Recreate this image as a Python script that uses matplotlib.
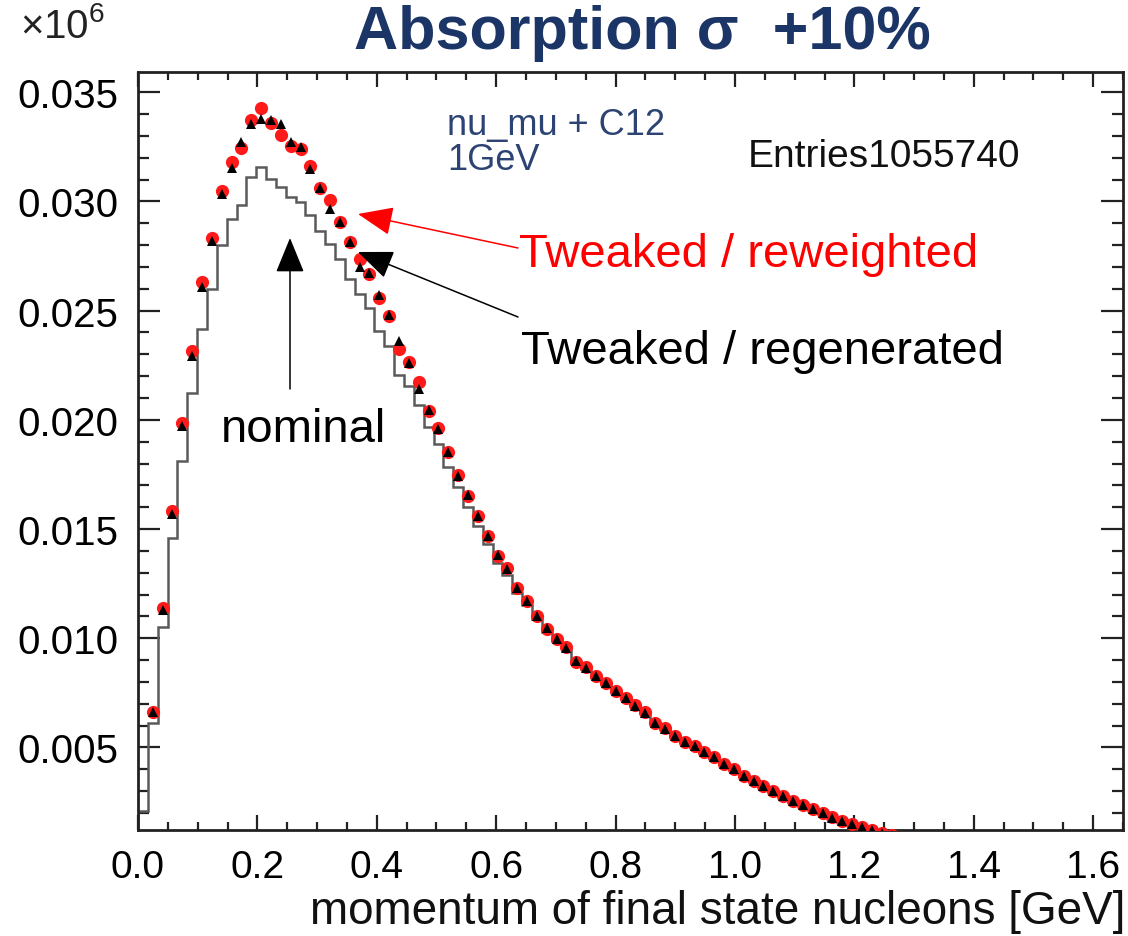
import numpy as np
import matplotlib
matplotlib.use("Agg")
import matplotlib.pyplot as plt
from matplotlib.ticker import MultipleLocator, FormatStrFormatter

plt.rcParams['font.family'] = ['Liberation Sans', 'DejaVu Sans']
plt.rcParams['mathtext.fontset'] = 'custom'
plt.rcParams['mathtext.rm'] = 'Liberation Sans'
plt.rcParams['mathtext.it'] = 'Liberation Sans'

# ---- data (histogram: 100 bins on 0..1.65 GeV) ----
bin_lo = 0.0
bin_hi = 1.65
n_bins = 100

nominal = [
    0.0021, 0.0061, 0.01052, 0.01458, 0.01813, 0.02123, 0.02416, 0.0260, 0.02802, 0.0292,
    0.02984, 0.0311, 0.03157, 0.03103, 0.03065, 0.03019, 0.02996, 0.02938, 0.02866, 0.02805,
    0.02737, 0.02645, 0.02576, 0.02513, 0.02409, 0.0234, 0.02206, 0.02154, 0.02068, 0.01965,
    0.0189, 0.01783, 0.01691, 0.0160, 0.01516, 0.0143, 0.01345, 0.0129, 0.01205, 0.01152,
    0.01088, 0.0103, 0.00987, 0.0095, 0.00886, 0.0086, 0.00823, 0.0079, 0.00756, 0.00724,
    0.0069, 0.00657, 0.0061, 0.00585, 0.00552, 0.00525, 0.00504, 0.0048, 0.00453, 0.00422,
    0.0040, 0.0037, 0.00347, 0.00324, 0.00301, 0.00278, 0.00255, 0.00236, 0.00217, 0.00199,
    0.00179, 0.00164, 0.00149, 0.00134, 0.00123, 0.0011, 0.0010, 0.0009, 0.0008, 0.0007,
]

reweighted = [
    np.nan, 0.00663, 0.01139, 0.01584, 0.01986, 0.02314, 0.0263, 0.02832, 0.03047, 0.03182,
    0.03245, 0.03375, 0.03427, 0.03358, 0.03305, 0.03256, 0.0324, 0.0316, 0.0306, 0.03007,
    0.02907, 0.02816, 0.02737, 0.02668, 0.02558, 0.02474, 0.02325, 0.02264, 0.02172, 0.02039,
    0.01962, 0.01852, 0.01748, 0.01653, 0.01561, 0.0147, 0.01378, 0.0132, 0.01229, 0.01172,
    0.01104, 0.01043, 0.00997, 0.00959, 0.00893, 0.00867, 0.00829, 0.00795, 0.0076, 0.00728,
    0.00694, 0.00661, 0.00612, 0.00588, 0.00554, 0.00527, 0.00506, 0.00481, 0.00455, 0.00424,
    0.00402, 0.00371, 0.00348, 0.00325, 0.00302, 0.00279, 0.00256, 0.00237, 0.00218, 0.0020,
    0.0018, 0.00165, 0.0015, 0.00135, 0.00124, 0.0011, 0.0010, 0.0009, 0.0008, 0.0007,
]

regenerated = [
    np.nan, 0.0066, 0.0113, 0.0157, 0.0197, 0.0229, 0.0261, 0.0282, 0.03034, 0.03152,
    0.03271, 0.03355, 0.03378, 0.03375, 0.03355, 0.03274, 0.03248, 0.03149, 0.0306, 0.02966,
    0.02907, 0.02816, 0.02699, 0.02672, 0.02572, 0.02478, 0.02363, 0.0226, 0.02142, 0.02045,
    0.0196, 0.01855, 0.01745, 0.01655, 0.01558, 0.01468, 0.0138, 0.01316, 0.01231, 0.0117,
    0.01102, 0.01045, 0.00995, 0.00956, 0.00895, 0.00864, 0.00827, 0.00793, 0.00758, 0.00726,
    0.00692, 0.00659, 0.00611, 0.00586, 0.00553, 0.00526, 0.00505, 0.0048, 0.00454, 0.00423,
    0.00401, 0.0037, 0.00347, 0.00324, 0.00301, 0.00278, 0.00255, 0.00236, 0.00217, 0.00199,
    0.00179, 0.00164, 0.00149, 0.00134, 0.00123, 0.0011, 0.0010, 0.0009, 0.0008, 0.0007,
]

title_text = "Absorption σ  +10%"
xlabel_text = "momentum of final state nucleons [GeV]"
label_reweighted = "Tweaked / reweighted"
label_regenerated = "Tweaked / regenerated"
label_nominal = "nominal"
info_text = "nu_mu + C12\n1GeV"
entries_text = "Entries1055740"

# ---- figure ----
W, H = 1128, 937
fig = plt.figure(figsize=(W / 100, H / 100), dpi=100)
ax = fig.add_axes([138 / W, 1 - 831 / H, (1123 - 138) / W, (831 - 72.7) / H])

width = (bin_hi - bin_lo) / n_bins
nb = len(nominal)
edges = bin_lo + width * np.arange(nb + 1)
centers = 0.5 * (edges[:-1] + edges[1:])

ax.stairs(nominal, edges, baseline=0, color='#5a5a5a', lw=1.8, zorder=2)
ax.plot(centers, reweighted, 'o', color='#ff1a1a', ms=9.5, mew=0, zorder=3)
ax.plot(centers, regenerated, '^', color='black', ms=7, mew=0, zorder=4)

ax.set_xlim(0, 1.65)
ax.set_ylim(0.00122, 0.03594)

ax.xaxis.set_major_locator(MultipleLocator(0.2))
ax.xaxis.set_minor_locator(MultipleLocator(0.05))
ax.yaxis.set_major_locator(MultipleLocator(0.005))
ax.yaxis.set_minor_locator(MultipleLocator(0.001))
ax.xaxis.set_major_formatter(FormatStrFormatter('%.1f'))
ax.yaxis.set_major_formatter(FormatStrFormatter('%.3f'))

ax.tick_params(which='both', direction='in', top=True, right=True, width=1.6, color='#222222')
ax.tick_params(axis='x', which='major', length=11, labelsize=28, pad=14)
ax.tick_params(axis='x', which='minor', length=6)
ax.tick_params(axis='y', which='major', length=16, labelsize=29, pad=14)
ax.tick_params(axis='y', which='minor', length=8)
for s in ax.spines.values():
    s.set_linewidth(2.0)
    s.set_color('#222222')

# texts
fig.text(642 / W, 1 - 34 / H, title_text, ha='center', va='center',
         fontsize=44, fontweight='bold', color='#1b3566')
fig.text(20 / W, 1 - 26 / H, r'$\times10^{6}$', ha='left', va='center',
         fontsize=29, color='#222222')
fig.text(1125 / W, 1 - 912 / H, xlabel_text, ha='right', va='center',
         fontsize=33, color='#111111')
fig.text(447 / W, 1 - 143 / H, info_text, ha='left', va='center',
         fontsize=26, color='#2c4373', linespacing=1.02)
fig.text(748 / W, 1 - 157 / H, entries_text, ha='left', va='center',
         fontsize=28, color='#111111')
fig.text(519 / W, 1 - 255 / H, label_reweighted, ha='left', va='center',
         fontsize=34, color='#ff0000')
fig.text(521 / W, 1 - 352 / H, label_regenerated, ha='left', va='center',
         fontsize=34, color='black')
fig.text(221 / W, 1 - 430 / H, label_nominal, ha='left', va='center',
         fontsize=34, color='black')

# arrows (figure pixel coordinates)
def arrow(tip, tail, color):
    ax.annotate('', xy=(tip[0], H - tip[1]), xycoords='figure pixels',
                xytext=(tail[0], H - tail[1]), textcoords='figure pixels',
                arrowprops=dict(arrowstyle='-|>,head_length=2.2,head_width=0.9',
                                color=color, lw=1.1, shrinkA=0, shrinkB=0),
                annotation_clip=False, zorder=6)

arrow((358, 215), (518, 249), '#ff0000')
arrow((358, 253), (518, 318), 'black')
arrow((290, 239), (290, 390), 'black')

fig.savefig('out.png', dpi=100)
